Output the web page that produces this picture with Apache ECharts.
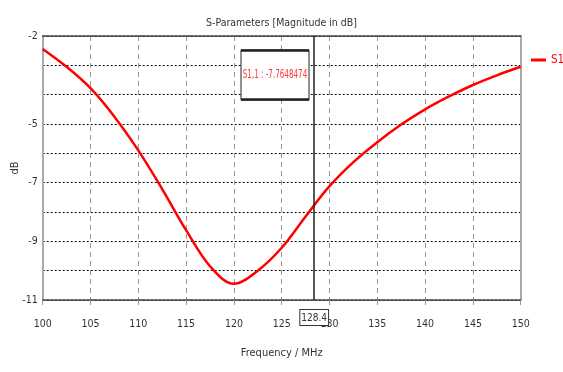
<!DOCTYPE html>
<html>
<head>
<meta charset="utf-8">
<script src="https://cdn.jsdelivr.net/npm/echarts@6/dist/echarts.min.js"></script>
<style>html,body{margin:0;padding:0;background:#fff;}#c{width:563px;height:372px;}</style>
</head>
<body>
<div id="c"></div>
<script>
const freq = [100, 102.5, 105, 107.5, 110, 112.5, 115, 117.5, 120, 122.5, 125, 127.5, 130, 132.5, 135, 137.5, 140, 142.5, 145, 147.5, 150];
const s11 = [-2.44, -3.05, -3.78, -4.75, -5.90, -7.22, -8.62, -9.85, -10.45, -10.0, -9.22, -8.15, -7.12, -6.30, -5.62, -5.02, -4.50, -4.06, -3.67, -3.34, -3.05];
const yLabels = [-2, -5, -7, -9, -11];
const markerFreq = 128.4;
const markerText = 'S1,1 : -7.7648474';
const seriesName = 'S1,1';

const FONT = '"Liberation Sans Narrow", "DejaVu Sans Condensed", sans-serif';
const chart = echarts.init(document.getElementById('c'));
chart.setOption({
  animation: false,
  backgroundColor: '#fff',
  title: {
    text: 'S-Parameters [Magnitude in dB]',
    left: 'center', top: 13,
    textStyle: {fontFamily: FONT, fontSize: 10.5, fontWeight: 'normal', color: '#333'}
  },
  legend: {
    data: [seriesName], left: 526, top: 49, orient: 'vertical',
    icon: 'rect', itemWidth: 15, itemHeight: 3, itemGap: 4,
    textStyle: {fontFamily: FONT, fontSize: 11.5, color: '#ff0000'}
  },
  grid: {left: 42.7, right: 42.3, top: 36, bottom: 72, show: false, containLabel: false, outerBoundsMode: 'none'},
  xAxis: [{
    type: 'value', min: 100, max: 150, interval: 5,
    name: 'Frequency / MHz', nameLocation: 'middle', nameGap: 48, nameMoveOverlap: false,
    nameTextStyle: {fontFamily: FONT, fontSize: 11, color: '#333'},
    axisLine: {show: true, onZero: false, lineStyle: {color: '#444', width: 1.5}},
    axisTick: {show: true, length: 5, lineStyle: {color: '#999'}},
    axisLabel: {fontFamily: FONT, fontSize: 10.5, color: '#333', margin: 19},
    splitLine: {show: true, lineStyle: {color: '#999', type: [5, 4], width: 1}}
  }, {
    type: 'value', min: 100, max: 150, interval: 5, position: 'top',
    axisLine: {show: true, onZero: false, lineStyle: {color: '#444', width: 1.5}},
    axisTick: {show: false}, axisLabel: {show: false}, splitLine: {show: false}
  }],
  yAxis: [{
    type: 'value', min: -11, max: -2, interval: 1,
    name: 'dB', nameLocation: 'middle', nameGap: 22, nameMoveOverlap: false,
    nameTextStyle: {fontFamily: FONT, fontSize: 11, color: '#333'},
    axisLine: {show: true, onZero: false, lineStyle: {color: '#aaa', width: 2}},
    axisTick: {show: false},
    axisLabel: {fontFamily: FONT, fontSize: 10.5, color: '#333', margin: 5,
      formatter: v => yLabels.indexOf(Math.round(v)) >= 0 ? String(v) : ''},
    splitLine: {show: true, lineStyle: {color: '#000', type: [2, 2], width: 1}}
  }, {
    type: 'value', min: -11, max: -2, interval: 1, position: 'right',
    axisLine: {show: true, onZero: false, lineStyle: {color: '#aaa', width: 2}},
    axisTick: {show: false}, axisLabel: {show: false}, splitLine: {show: false}
  }],
  series: [{
    name: seriesName, type: 'line', smooth: 0.35, symbol: 'none',
    data: freq.map((f, i) => [f, s11[i]]),
    lineStyle: {color: '#ff0000', width: 2.5}, itemStyle: {color: '#ff0000'},
    markLine: {
      silent: true, symbol: 'none',
      lineStyle: {color: '#222', type: 'solid', width: 1.5},
      label: {
        show: true, position: 'start', distance: 10, formatter: String(markerFreq),
        fontFamily: FONT, fontSize: 10, color: '#333', backgroundColor: '#fff',
        borderColor: '#333', borderWidth: 1, padding: [3, 1, 2, 1]
      },
      data: [{xAxis: markerFreq}]
    }
  }],
  graphic: [
    {type: 'rect', shape: {x: 241, y: 50, width: 68, height: 50}, style: {fill: '#fff', stroke: '#222', lineWidth: 1}, z: 100},
    {type: 'line', shape: {x1: 241, y1: 50.5, x2: 309, y2: 50.5}, style: {stroke: '#222', lineWidth: 2.5}, z: 101},
    {type: 'line', shape: {x1: 241, y1: 99.5, x2: 309, y2: 99.5}, style: {stroke: '#222', lineWidth: 2.5}, z: 101},
    {type: 'text', x: 275, y: 75, scaleX: 0.64, z: 102,
      style: {text: markerText, fill: '#ff3838', fontFamily: FONT, fontSize: 12.5, align: 'center', verticalAlign: 'middle'}}
  ]
});
</script>
</body>
</html>
